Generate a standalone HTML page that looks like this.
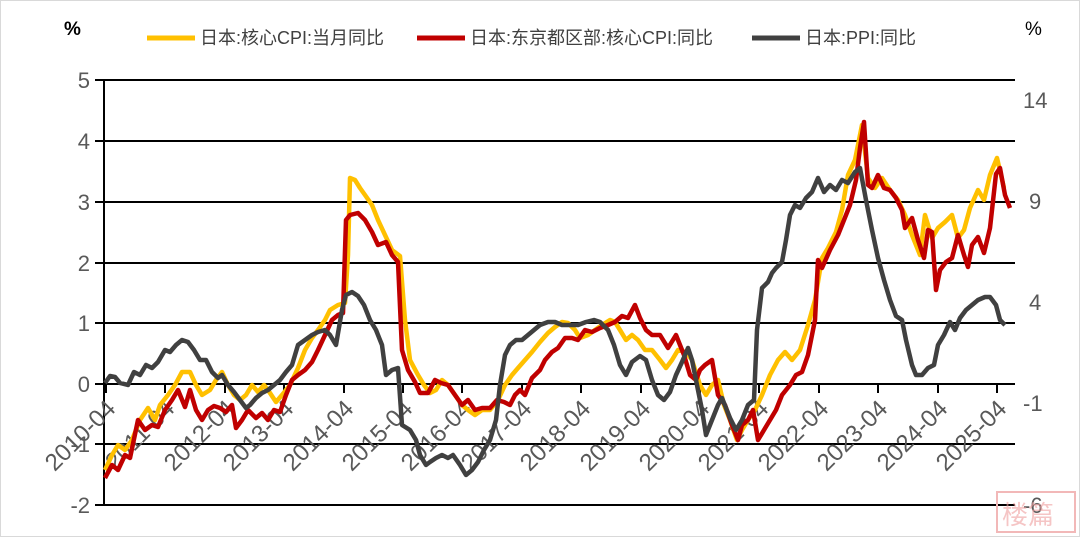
<!DOCTYPE html><html><head><meta charset="utf-8"><style>body{margin:0;background:#fff}svg{display:block}</style></head><body>
<svg width="1080" height="537" viewBox="0 0 1080 537" xmlns="http://www.w3.org/2000/svg" font-family="Liberation Sans, Noto Sans CJK SC, sans-serif">
<rect x="0.5" y="0.5" width="1079" height="536" fill="#fff" stroke="#d9d9d9"/>
<g stroke="#000" stroke-width="2">
<line x1="95" y1="80" x2="1015" y2="80"/><line x1="95" y1="141" x2="1015" y2="141"/><line x1="95" y1="202" x2="1015" y2="202"/><line x1="95" y1="263" x2="1015" y2="263"/><line x1="95" y1="323" x2="1015" y2="323"/><line x1="95" y1="384" x2="1015" y2="384"/><line x1="95" y1="444" x2="1015" y2="444"/><line x1="95" y1="505" x2="1015" y2="505"/>
<line x1="104" y1="80" x2="104" y2="505"/>
</g>
<g stroke="#000" stroke-width="2">
<line x1="106" y1="384" x2="106" y2="393"/><line x1="165" y1="384" x2="165" y2="393"/><line x1="225" y1="384" x2="225" y2="393"/><line x1="284" y1="384" x2="284" y2="393"/><line x1="344" y1="384" x2="344" y2="393"/><line x1="403" y1="384" x2="403" y2="393"/><line x1="462" y1="384" x2="462" y2="393"/><line x1="522" y1="384" x2="522" y2="393"/><line x1="581" y1="384" x2="581" y2="393"/><line x1="641" y1="384" x2="641" y2="393"/><line x1="700" y1="384" x2="700" y2="393"/><line x1="759" y1="384" x2="759" y2="393"/><line x1="819" y1="384" x2="819" y2="393"/><line x1="878" y1="384" x2="878" y2="393"/><line x1="938" y1="384" x2="938" y2="393"/><line x1="997" y1="384" x2="997" y2="393"/>
</g>
<g font-size="22" fill="#595959" text-anchor="end">
<text x="90" y="88">5</text><text x="90" y="149">4</text><text x="90" y="210">3</text><text x="90" y="271">2</text><text x="90" y="331">1</text><text x="90" y="392">0</text><text x="90" y="452">-1</text><text x="90" y="513">-2</text>
</g>
<g font-size="22" fill="#595959">
<text x="1023" y="108">14</text><text x="1029" y="209">9</text><text x="1029" y="310">4</text><text x="1023" y="411">-1</text><text x="1023" y="513">-6</text>
</g>
<text x="64" y="35" font-size="19" fill="#000" font-weight="bold">%</text>
<text x="1025" y="35" font-size="19" fill="#000">%</text>
<g font-size="24" fill="#595959" text-anchor="end">
<text transform="translate(117,410) rotate(-45)">2010-04</text><text transform="translate(176,410) rotate(-45)">2011-04</text><text transform="translate(236,410) rotate(-45)">2012-04</text><text transform="translate(295,410) rotate(-45)">2013-04</text><text transform="translate(355,410) rotate(-45)">2014-04</text><text transform="translate(414,410) rotate(-45)">2015-04</text><text transform="translate(473,410) rotate(-45)">2016-04</text><text transform="translate(533,410) rotate(-45)">2017-04</text><text transform="translate(592,410) rotate(-45)">2018-04</text><text transform="translate(652,410) rotate(-45)">2019-04</text><text transform="translate(711,410) rotate(-45)">2020-04</text><text transform="translate(770,410) rotate(-45)">2021-04</text><text transform="translate(830,410) rotate(-45)">2022-04</text><text transform="translate(889,410) rotate(-45)">2023-04</text><text transform="translate(949,410) rotate(-45)">2024-04</text><text transform="translate(1008,410) rotate(-45)">2025-04</text>
</g>
<g fill="none" stroke-width="4.5" stroke-linejoin="round">
<polyline stroke="#FFC000" points="105,470 112,455 118,445 125,450 132,440 140,420 148,408 155,420 160,405 168,395 175,385 182,372 190,372 196,385 202,395 210,390 216,380 222,372 228,385 234,395 240,400 246,395 252,385 258,392 264,385 270,393 276,402 282,395 290,385 298,368 305,350 312,338 318,330 325,320 330,310 338,305 345,303 348,255 350,178 355,180 360,188 365,195 372,205 378,220 385,235 392,250 400,256 405,320 410,360 418,375 424,385 430,393 436,390 442,380 448,385 455,395 462,405 468,410 475,415 482,410 490,410 498,400 505,385 512,375 518,368 525,360 532,352 540,342 548,333 555,327 562,322 568,323 575,330 580,338 588,335 595,330 602,325 610,320 615,322 620,330 626,340 632,335 638,340 645,350 652,350 660,360 666,368 672,360 678,350 686,352 692,360 700,385 706,395 712,385 718,380 724,405 730,420 737,440 742,430 748,420 755,410 762,395 770,375 778,360 785,352 792,360 800,350 808,325 815,300 822,258 828,248 836,232 842,210 848,175 855,160 862,125 868,178 875,188 882,178 890,190 898,200 905,215 912,235 920,255 925,215 932,238 938,228 945,222 952,215 958,238 964,230 970,208 978,190 984,200 990,175 997,158 1004,188"/>
<polyline stroke="#C00000" points="105,478 112,465 118,470 125,455 130,458 138,420 145,430 152,425 158,427 165,410 172,400 178,390 185,407 190,390 196,410 202,420 208,410 214,406 220,408 226,412 232,405 236,428 242,420 248,410 256,418 262,413 268,420 274,410 280,412 286,395 292,380 298,375 305,370 312,362 318,350 325,335 332,320 338,315 343,313 346,220 350,215 358,213 365,220 372,232 378,245 386,242 392,255 398,262 402,350 408,370 415,382 420,393 428,393 435,380 441,383 448,385 455,395 462,405 468,400 475,410 482,408 490,408 497,400 504,402 510,405 515,395 520,390 525,395 532,378 540,370 545,360 552,352 558,348 565,338 572,338 578,340 585,330 592,332 600,328 608,325 615,322 622,316 628,318 635,305 640,318 646,330 652,335 660,335 668,348 676,335 684,355 690,375 696,380 700,370 705,365 712,360 718,395 725,405 732,425 738,440 742,425 748,420 753,410 758,440 764,430 770,420 776,410 782,395 790,385 796,375 802,372 808,355 815,320 818,260 822,268 830,250 838,235 844,220 850,205 856,180 860,148 864,122 868,185 872,188 878,175 884,188 890,190 896,198 902,210 905,228 912,218 918,240 924,258 928,230 932,232 936,290 940,270 946,262 952,258 958,235 964,255 968,267 972,245 978,237 984,253 990,228 996,174 1000,168 1005,195 1010,208"/>
<polyline stroke="#404040" points="105,383 110,376 115,377 120,383 128,385 134,372 140,375 146,365 152,368 158,362 165,350 170,352 176,345 182,340 188,342 194,350 200,360 206,360 212,372 218,378 222,375 228,385 234,392 240,400 246,408 250,405 256,398 262,393 268,390 274,385 280,380 286,372 292,365 298,345 305,340 312,335 318,332 325,330 330,335 336,345 342,310 346,295 352,292 358,296 364,305 370,320 376,330 382,345 386,375 392,370 398,368 402,425 410,430 416,440 420,455 426,465 430,462 436,458 442,455 448,458 453,455 460,465 466,475 472,470 478,462 484,450 490,440 496,420 500,385 505,355 510,345 516,340 522,340 528,335 534,330 540,325 548,322 555,322 562,325 570,325 578,325 586,322 594,320 600,322 608,330 614,345 620,365 626,375 632,362 640,356 646,360 652,380 658,395 664,400 670,392 676,375 682,362 688,348 692,360 698,390 702,410 706,435 712,420 718,405 722,398 730,418 736,430 742,420 748,405 754,400 757,330 762,288 768,282 772,273 776,268 782,262 786,240 790,215 795,205 800,208 806,198 812,192 818,178 824,192 830,185 836,190 842,180 848,183 855,172 860,168 866,200 872,230 878,258 884,280 890,300 896,316 902,320 906,340 912,365 916,375 922,375 928,368 934,365 938,345 944,335 950,322 955,330 960,318 966,310 972,305 978,300 985,297 990,297 996,305 1000,320 1005,325"/>
</g>
<g stroke-width="5">
<line x1="147" y1="38" x2="195" y2="38" stroke="#FFC000"/>
<line x1="417" y1="38" x2="465" y2="38" stroke="#C00000"/>
<line x1="752" y1="38" x2="800" y2="38" stroke="#404040"/>
</g>
<g font-size="18" fill="#404040">
<text x="200" y="44">日本:核心CPI:当月同比</text>
<text x="470" y="44">日本:东京都区部:核心CPI:同比</text>
<text x="805" y="44">日本:PPI:同比</text>
</g>
<rect x="997" y="492" width="78" height="40" fill="none" stroke="#f2b8b8" stroke-width="2"/>
<text x="1002" y="524" font-size="26" fill="#f0a0a0" opacity="0.6">楼篇</text>
</svg>
</body></html>
